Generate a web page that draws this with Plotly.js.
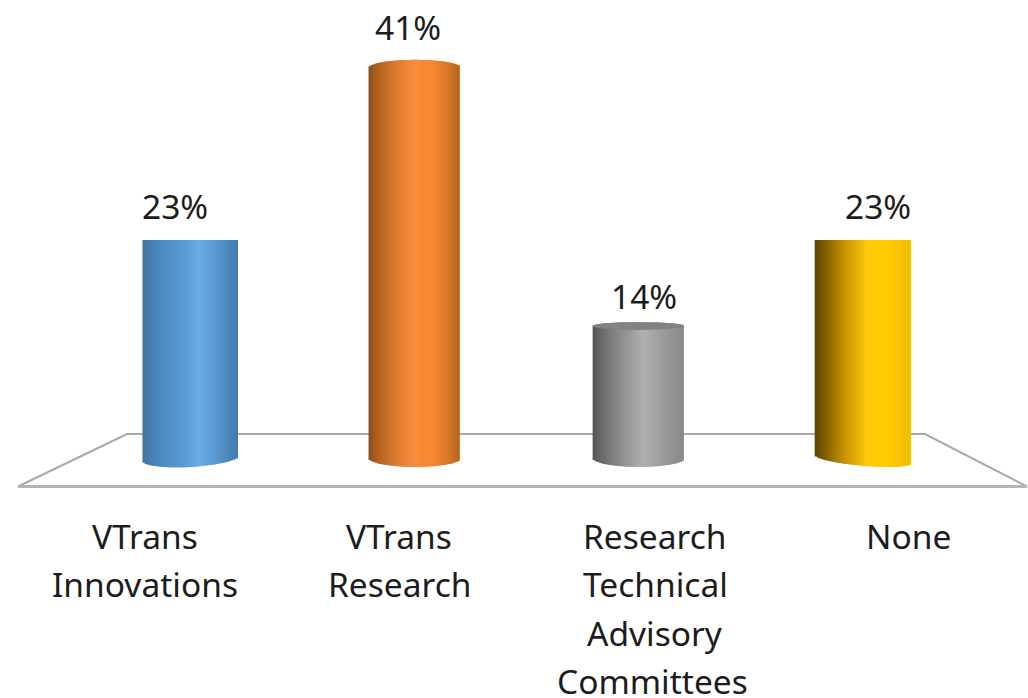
<!DOCTYPE html>
<html>
<head>
<meta charset="utf-8">
<script src="https://cdn.plot.ly/plotly-3.0.1.min.js"></script>
<style>html,body{margin:0;padding:0;background:#fff}#chart{width:1028px;height:698px}</style>
</head>
<body>
<div id="chart"></div>
<script>
// ---- data ----
const categories = ['VTrans Innovations', 'VTrans Research', 'Research Technical Advisory Committees', 'None'];
const shareValues = [23, 41, 14, 23];
const valueLabels = ['23%', '41%', '14%', '23%'];
const categoryLines = [['VTrans', 'Innovations'], ['VTrans', 'Research'], ['Research', 'Technical', 'Advisory', 'Committees'], ['None']];

// ---- styling and layout ----
const barWidths = [0.426, 0.406, 0.406, 0.428];
const barShift = [0, -0.002, -0.003, -0.002];
const topCap = [0, 0.84, 0.4, 0];
const bottomLeft = [-0.1, 0.2, 0.2, 0.52];
const bottomRight = [0.52, 0.2, 0.2, -0.33];
const bottomCap = [0.94, 0.93, 0.93, 0.71];
const gradients = [
  [[0, '#3f74a6'], [0.15, '#4a86bd'], [0.45, '#5a9cd8'], [0.6, '#68ace8'], [0.82, '#5391ca'], [1, '#4279a9']],
  [[0, '#8a4c1a'], [0.1, '#b2601e'], [0.3, '#dc7a2e'], [0.5, '#f98d3c'], [0.72, '#f5862f'], [0.88, '#d5752a'], [1, '#b0661f']],
  [[0, '#565656'], [0.2, '#7c7c7c'], [0.55, '#b0b0b0'], [0.8, '#999999'], [1, '#888888']],
  [[0, '#5f4600'], [0.1, '#7e5d00'], [0.3, '#c59100'], [0.55, '#ffcb0c'], [0.75, '#ffca00'], [1, '#f0bd00']]
];
const valueLabelX = [175, 408, 644, 878];
const valueLabelY = [206, 27, 296, 206];
const categoryLineX = [[145, 145], [399, 399], [654, 655, 655, 652], [908]];
const categoryLineY = [536, 584, 633, 681];
const W = 1028, H = 698;
const FONT = 'Noto Sans, sans-serif';
const FONT_SIZE = 33.5;
const INK = '#1c1c1c';
const stripCount = 44;

function hex(c) { return [1, 3, 5].map(i => parseInt(c.substr(i, 2), 16)); }
function colorAt(stops, t) {
  for (let k = 1; k < stops.length; k++) {
    if (t <= stops[k][0]) {
      const f = (t - stops[k - 1][0]) / (stops[k][0] - stops[k - 1][0]);
      const a = hex(stops[k - 1][1]), b = hex(stops[k][1]);
      return 'rgb(' + a.map((v, j) => Math.round(v + (b[j] - v) * f)).join(',') + ')';
    }
  }
  return stops[stops.length - 1][1];
}

// Each cylinder is a stack of thin, overlapping vertical bar slices, which gives the shaded look.
const traces = [];
for (let i = 0; i < stripCount; i++) {
  const t = (i + 0.5) / stripCount;
  const arc = Math.sqrt(1 - Math.pow(2 * t - 1, 2));
  const span = i === stripCount - 1 ? 1 : 2;
  const base = categories.map((_, c) => bottomLeft[c] + (bottomRight[c] - bottomLeft[c]) * t - bottomCap[c] * arc);
  traces.push({
    type: 'bar',
    x: categories,
    y: shareValues.map((v, c) => v + topCap[c] * arc - base[c]),
    base: base,
    width: barWidths.map(w => span * w / stripCount),
    offset: barWidths.map((w, c) => -w / 2 + w * i / stripCount + barShift[c]),
    marker: { color: gradients.map(g => colorAt(g, t)), line: { width: 0 } },
    hoverinfo: 'skip',
    showlegend: false
  });
}

const annotations = [];
function addText(text, px, py) {
  annotations.push({
    text: text, xref: 'paper', yref: 'paper', x: px / W, y: 1 - py / H,
    xanchor: 'center', yanchor: 'middle', showarrow: false,
    font: { family: FONT, size: FONT_SIZE, color: INK }
  });
}
valueLabels.forEach((s, c) => addText(s, valueLabelX[c], valueLabelY[c]));
categoryLines.forEach((lines, c) => lines.forEach((s, l) => addText(s, categoryLineX[c][l], categoryLineY[l])));

const px = (x, y) => (x / W) + ' ' + (1 - y / H);
const shapes = [
  { type: 'path', xref: 'paper', yref: 'paper', layer: 'below',
    path: 'M ' + px(18, 486.5) + ' L ' + px(127, 434) + ' L ' + px(925, 434) + ' L ' + px(1027, 486.5) + ' Z',
    line: { color: '#a9a9a9', width: 2 }, fillcolor: '#ffffff' },
  { type: 'path', xref: 'paper', yref: 'paper', layer: 'below',
    path: 'M ' + px(18, 486.5) + ' L ' + px(1027, 486.5),
    line: { color: '#b4b4b4', width: 3 } },
  { type: 'circle', xref: 'x', yref: 'y', layer: 'above',
    x0: 2 - barWidths[2] / 2 + barShift[2], x1: 2 + barWidths[2] / 2 + barShift[2],
    y0: shareValues[2] - topCap[2], y1: shareValues[2] + topCap[2],
    fillcolor: '#828282', line: { width: 0 } }
];

Plotly.newPlot('chart', traces, {
  width: W, height: H,
  margin: { l: 0, r: 0, t: 0, b: 0 },
  paper_bgcolor: '#ffffff', plot_bgcolor: 'rgba(0,0,0,0)',
  barmode: 'overlay',
  xaxis: { type: 'category', range: [-0.848, 3.735], showticklabels: false, showgrid: false, zeroline: false, showline: false, ticks: '', fixedrange: true },
  yaxis: { range: [-24.9, 48.1], showticklabels: false, showgrid: false, zeroline: false, showline: false, ticks: '', fixedrange: true },
  shapes: shapes,
  annotations: annotations,
  showlegend: false
}, { displayModeBar: false });
</script>
</body>
</html>
